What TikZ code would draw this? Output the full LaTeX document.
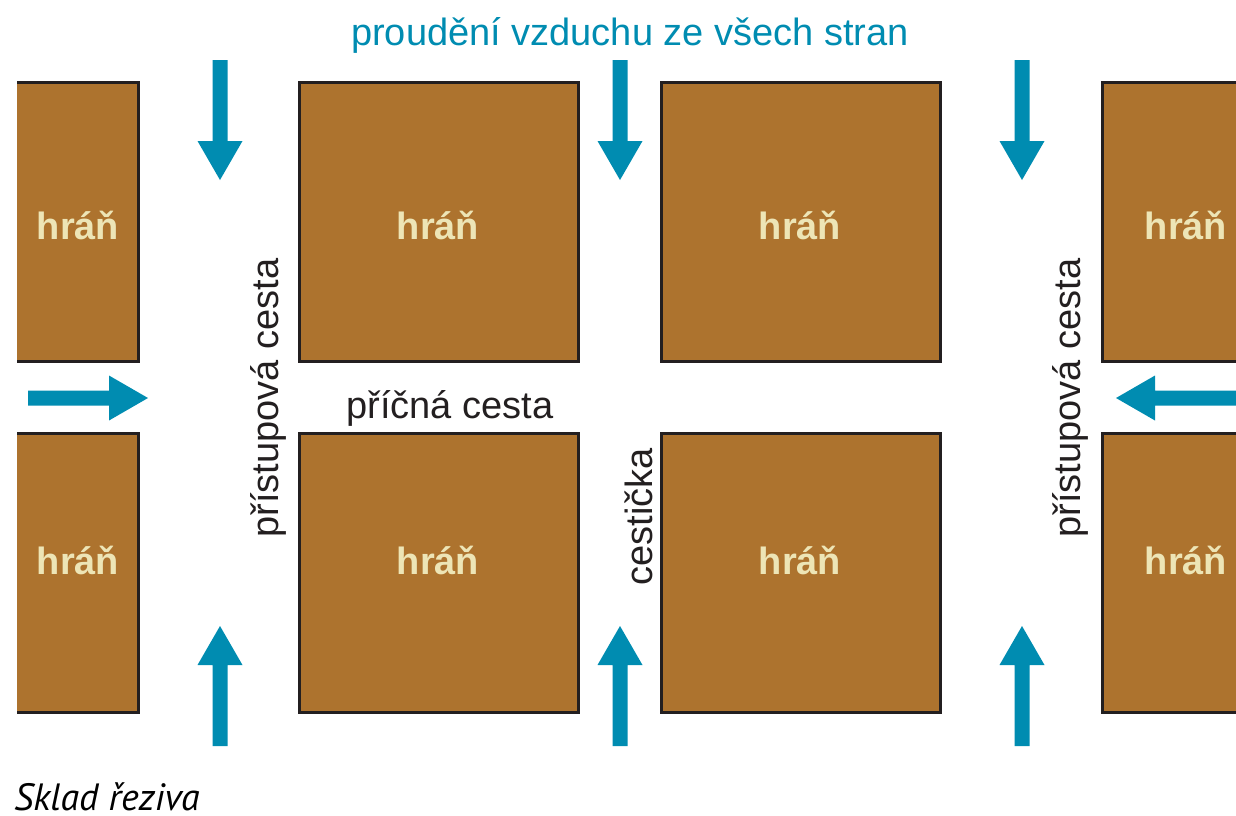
\documentclass[tikz,border=0pt]{standalone}
\usepackage{fontspec}
\setmainfont{Liberation Sans}
\newfontfamily\capfont{PT Sans}
\definecolor{teal}{HTML}{008CB1}
\definecolor{wood}{HTML}{AD732E}
\definecolor{woodtext}{HTML}{EDE5B6}
\definecolor{ink}{HTML}{231F20}
\tikzset{
  pile/.style={fill=wood},
  rim/.style={draw=ink,line width=3pt},
  woodlabel/.style={text=woodtext,font=\fontsize{38}{40}\selectfont\bfseries},
  roadlabel/.style={text=ink,font=\fontsize{38}{40}\selectfont,inner sep=0pt},
  flow/.style={fill=teal}
}
\begin{document}
\begin{tikzpicture}[x=1pt,y=-1pt]
\useasboundingbox (0,0) rectangle (1236,815);
% piles of timber
\foreach \t/\b in {82/361,433/712}{
  % left (cut) column
  \fill[pile] (17,\t) rectangle (138,\b);
  \draw[rim] (17,\t) -- (138,\t) -- (138,\b) -- (17,\b);
  % middle columns
  \fill[pile] (299,\t) rectangle (578,\b);
  \draw[rim] (299,\t) rectangle (578,\b);
  \fill[pile] (661,\t) rectangle (940,\b);
  \draw[rim] (661,\t) rectangle (940,\b);
  % right (cut) column
  \fill[pile] (1102,\t) rectangle (1236,\b);
  \draw[rim] (1236,\t) -- (1102,\t) -- (1102,\b) -- (1236,\b);
}
\foreach \x/\n in {78/a,438/b,800/c,1186/d}{
  \node[woodlabel] (h\n1) at (\x,225) {hráň};
  \node[woodlabel] (h\n2) at (\x,560) {hráň};
}
% air flow arrows
\foreach \x in {220,620,1022}{
  \fill[flow] (\x-7.5,60) -- (\x+7.5,60) -- (\x+7.5,141) -- (\x+22.5,141) -- (\x,180) -- (\x-22.5,141) -- (\x-7.5,141) -- cycle;
  \fill[flow] (\x-7.5,746) -- (\x+7.5,746) -- (\x+7.5,665) -- (\x+22.5,665) -- (\x,626) -- (\x-22.5,665) -- (\x-7.5,665) -- cycle;
}
\fill[flow] (28,390.5) -- (109,390.5) -- (109,375.5) -- (148,398) -- (109,420.5) -- (109,405.5) -- (28,405.5) -- cycle;
\fill[flow] (1236,390.5) -- (1155,390.5) -- (1155,375.5) -- (1116,398) -- (1155,420.5) -- (1155,405.5) -- (1236,405.5) -- cycle;
% labels
\node[roadlabel,text=teal,anchor=base] (flowtext) at (630,45) {proudění vzduchu ze všech stran};
\node[roadlabel,anchor=base,rotate=90] (acc1) at (278,398) {přístupová cesta};
\node[roadlabel,anchor=base,rotate=90] (acc2) at (1080,398) {přístupová cesta};
\node[roadlabel,anchor=base] (cross) at (450,418) {příčná cesta};
\node[roadlabel,anchor=base,rotate=90] (path) at (652,517) {cestička};
\node[inner sep=0pt,anchor=base west,text=black,font=\capfont\itshape\fontsize{38}{40}\selectfont] (cap) at (14,810) {Sklad řeziva};
\end{tikzpicture}
\end{document}
